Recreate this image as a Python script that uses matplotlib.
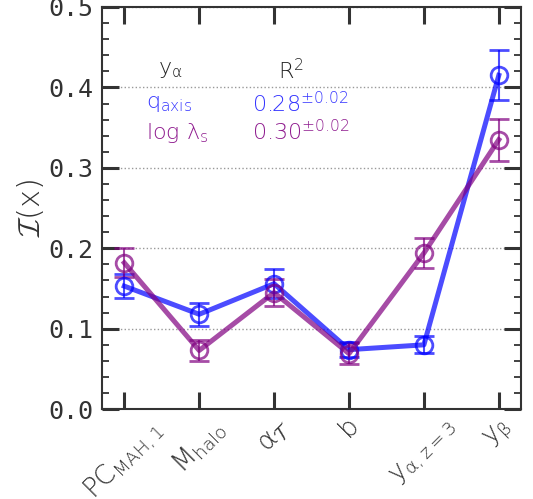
import matplotlib
matplotlib.use("Agg")
import matplotlib.pyplot as plt
from matplotlib.ticker import MultipleLocator

TEXT = "#333333"
BLUE = "blue"
PURPLE = "purple"

labels = [
    r"$\mathrm{PC}_{\mathrm{MAH},1}$",
    r"$M_{\mathrm{halo}}$",
    r"$\alpha_{\mathcal{T}}$",
    r"$b$",
    r"$y_{\alpha,z=3}$",
    r"$y_{\beta}$",
]
q_axis = [0.153, 0.118, 0.156, 0.074, 0.080, 0.415]
q_axis_err = [0.015, 0.014, 0.018, 0.009, 0.0105, 0.031]
log_lambda = [0.182, 0.073, 0.145, 0.069, 0.194, 0.335]
log_lambda_err = [0.018, 0.013, 0.017, 0.013, 0.019, 0.026]

plt.rcParams.update(
    {
        "mathtext.fontset": "custom",
        "mathtext.rm": "DejaVu Sans:light",
        "mathtext.it": "DejaVu Sans:light",
        "mathtext.bf": "DejaVu Sans",
        "mathtext.cal": "cmsy10",
        "font.family": "DejaVu Sans",
        "font.weight": "light",
        "axes.edgecolor": TEXT,
        "axes.linewidth": 1.5,
    }
)

fig = plt.figure(figsize=(5.33, 4.99), dpi=100)
ax = fig.add_axes([0.191, 0.180, 0.787, 0.806])

xs = list(range(len(labels)))
for vals, errs, color in [(q_axis, q_axis_err, BLUE), (log_lambda, log_lambda_err, PURPLE)]:
    ax.errorbar(
        xs,
        vals,
        yerr=errs,
        fmt="o-",
        color=color,
        alpha=0.7,
        lw=3.6,
        ms=12,
        mfc="none",
        mew=2,
        elinewidth=1.5,
        capsize=7,
        capthick=1.8,
    )

ax.set_xlim(-0.3, 5.3)
ax.set_ylim(0, 0.5)
ax.set_xticks(xs)
ax.set_xticklabels(labels, rotation=45, ha="center", fontsize=19, color=TEXT)
ax.yaxis.set_minor_locator(MultipleLocator(0.02))
ax.set_yticks([0.0, 0.1, 0.2, 0.3, 0.4, 0.5])
ax.set_yticklabels(["0.0", "0.1", "0.2", "0.3", "0.4", "0.5"], family="DejaVu Sans Mono", fontsize=18, color=TEXT)
ax.tick_params(which="major", direction="in", length=12, width=2.2, top=True, right=True, color=TEXT, pad=6)
ax.tick_params(axis="x", which="major", pad=4)
ax.tick_params(which="minor", direction="in", length=5, width=1.3, right=True, color=TEXT)
ax.tick_params(axis="x", which="minor", bottom=False, top=False)
ax.grid(axis="y", which="major", linestyle=":", color="#999999", lw=1)
ax.set_ylabel(r"$\mathcal{I}(\mathrm{x})$", fontsize=22, color=TEXT, labelpad=2)

ax.text(0.163, 0.843, r"$y_{\alpha}$", transform=ax.transAxes, fontsize=16, color="#222222", ha="center", va="center")
ax.text(0.451, 0.843, r"$\mathrm{R}^2$", transform=ax.transAxes, fontsize=16, color="#222222", ha="center", va="center")
ax.text(0.106, 0.758, r"$q_{\mathrm{axis}}$", transform=ax.transAxes, fontsize=16, color="#3333ff", ha="left", va="center")
ax.text(0.358, 0.761, r"$0.28^{\pm0.02}$", transform=ax.transAxes, fontsize=16, color="#3333ff", ha="left", va="center")
ax.text(0.106, 0.686, r"$\log\,\lambda_{s}$", transform=ax.transAxes, fontsize=16, color="#8e1a8e", ha="left", va="center")
ax.text(0.358, 0.689, r"$0.30^{\pm0.02}$", transform=ax.transAxes, fontsize=16, color="#8e1a8e", ha="left", va="center")

fig.savefig("out.png", dpi=100)
